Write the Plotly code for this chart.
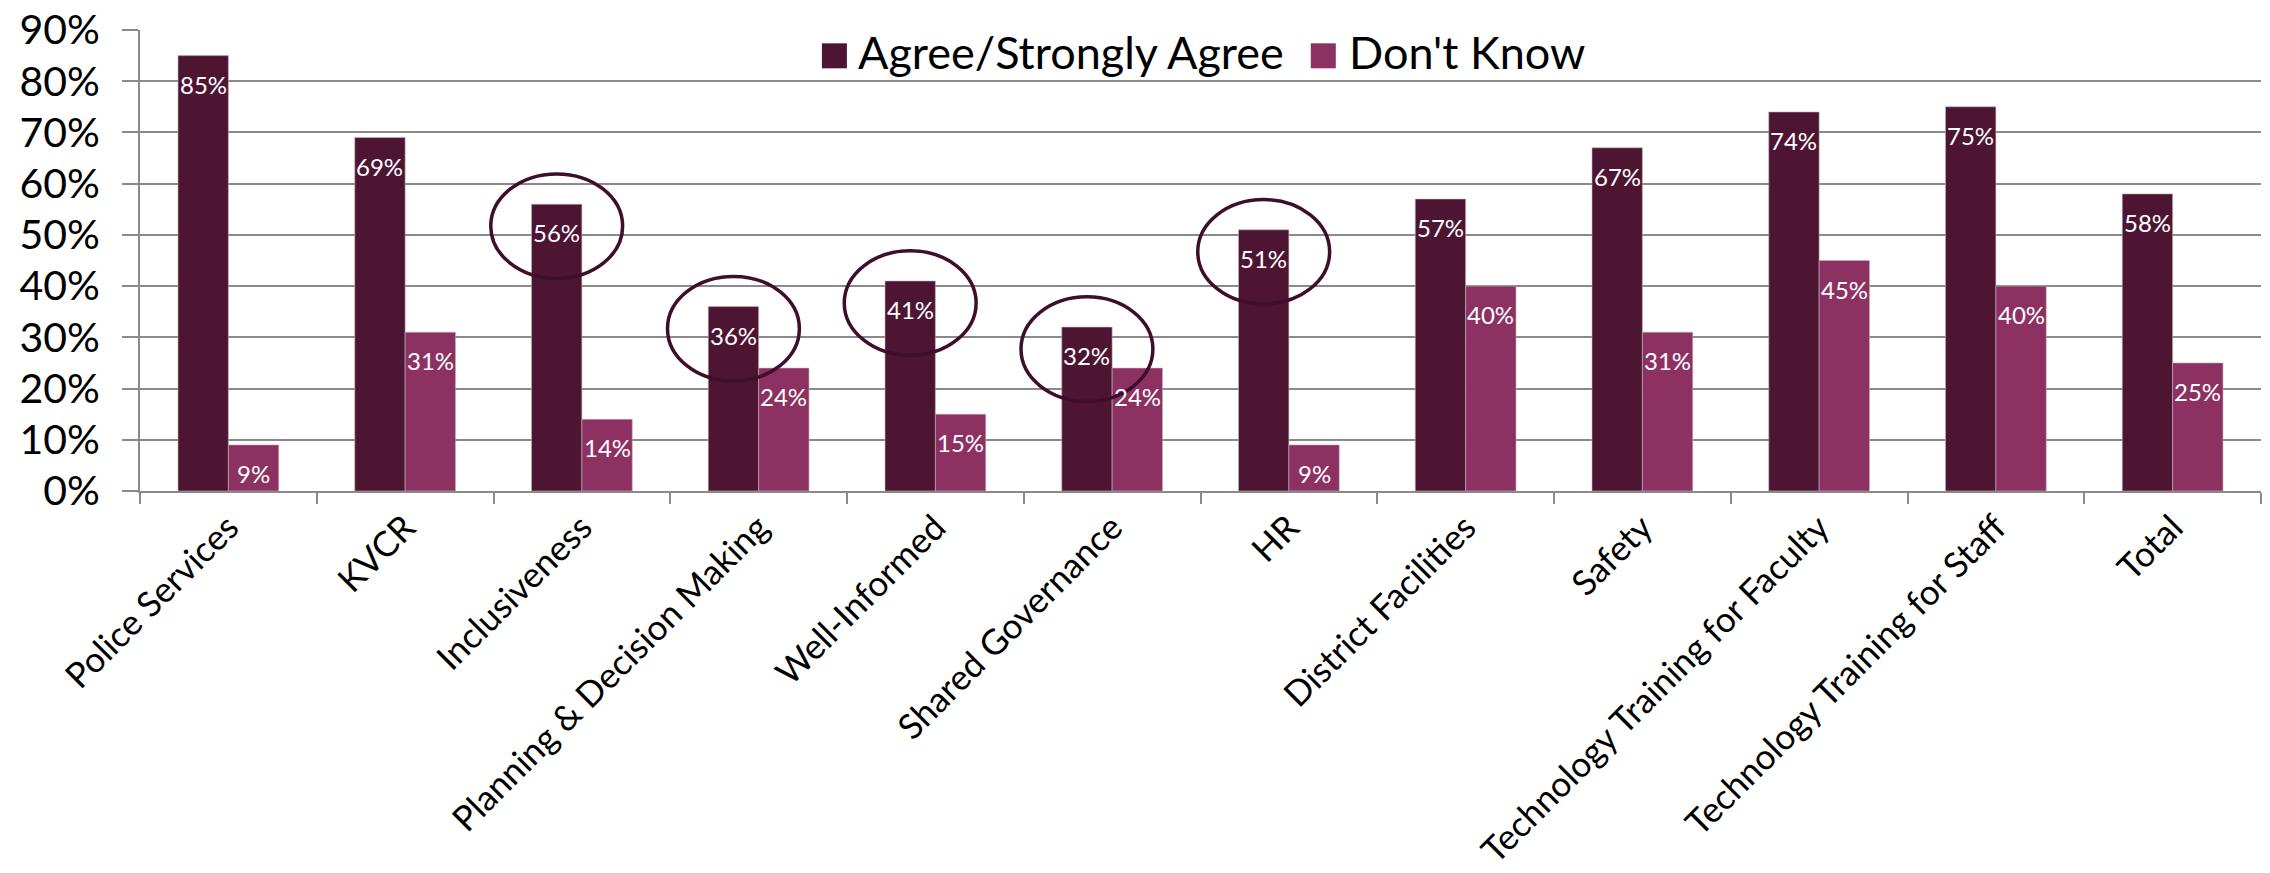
import plotly.graph_objects as go

categories = ["Police Services", "KVCR", "Inclusiveness", "Planning & Decision Making",
              "Well-Informed", "Shared Governance", "HR", "District Facilities", "Safety",
              "Technology Training for Faculty", "Technology Training for Staff", "Total"]
agree = [85, 69, 56, 36, 41, 32, 51, 57, 67, 74, 75, 58]
dont_know = [9, 31, 14, 24, 15, 24, 9, 40, 31, 45, 40, 25]
series_names = ["Agree/Strongly Agree", "Don't Know"]
highlighted = ["Inclusiveness", "Planning & Decision Making", "Well-Informed",
               "Shared Governance", "HR"]
y_ticks = [0, 10, 20, 30, 40, 50, 60, 70, 80, 90]
y_tick_labels = [f"{v}%" for v in y_ticks]

DARK = "#4E1533"
PINK = "#8D3162"
GRID = "#8A8A8A"
FONT = "Lato"
BARGAP = 0.43

fig = go.Figure()
for name, vals, col in [(series_names[0], agree, DARK), (series_names[1], dont_know, PINK)]:
    fig.add_trace(go.Bar(
        x=categories, y=vals, name=name, marker_color=col,
        marker_line=dict(width=1, color="rgba(190,180,185,0.6)"),
        showlegend=False,
    ))

half = (1 - BARGAP) / 4
annotations = []
for s, (vals, off) in enumerate([(agree, -half), (dont_know, half)]):
    for i, v in enumerate(vals):
        annotations.append(dict(
            x=i + off, y=v, xref="x", yref="y", text=f"{v}%", showarrow=False,
            yanchor="top", xanchor="center", yshift=-12,
            font=dict(family=FONT, size=24, color="white"),
        ))

# highlight ellipses around selected "agree" labels
shapes = []
for c in highlighted:
    i = categories.index(c)
    v = agree[i]
    cx = i - half
    cy = v - 4.3
    shapes.append(dict(
        type="circle", xref="x", yref="y",
        x0=cx - 0.373, x1=cx + 0.373, y0=cy - 10.2, y1=cy + 10.2,
        line=dict(color="#3E0E2A", width=3.5), fillcolor="rgba(0,0,0,0)", layer="above",
    ))

# manual legend with large swatches
legend_items = [(series_names[0], DARK, 0.3215, 0.3375), (series_names[1], PINK, 0.552, 0.569)]
for name, col, mx, tx in legend_items:
    shapes.append(dict(
        type="rect", xref="paper", yref="paper", xsizemode="pixel", ysizemode="pixel",
        xanchor=mx, yanchor=0.944, x0=0, x1=25, y0=-12.5, y1=12.5,
        fillcolor=col, line=dict(width=0), layer="above",
    ))
    annotations.append(dict(
        x=tx, y=0.952, xref="paper", yref="paper", text=name, showarrow=False,
        xanchor="left", yanchor="middle", font=dict(family=FONT, size=45, color="black"),
    ))

fig.update_layout(
    width=2270, height=873,
    margin=dict(l=140, r=9, t=30, b=382, autoexpand=False),
    paper_bgcolor="white", plot_bgcolor="white",
    barmode="group", bargap=BARGAP, bargroupgap=0,
    font=dict(family=FONT, color="black"),
    annotations=annotations, shapes=shapes,
    showlegend=False,
    xaxis=dict(
        type="category", tickangle=-45, tickfont=dict(family=FONT, size=35, color="black"),
        ticks="outside", tickson="boundaries", ticklen=11, tickwidth=2, tickcolor=GRID,
        showline=True, linecolor=GRID, linewidth=2, showgrid=False,
        ticklabeloverflow="allow",
    ),
    yaxis=dict(
        range=[0, 90], tickvals=y_ticks, ticktext=y_tick_labels,
        tickfont=dict(family=FONT, size=41, color="black"),
        ticks="outside", ticklen=16, tickwidth=2, tickcolor=GRID, ticklabelstandoff=14,
        ticklabeloverflow="allow",
        showgrid=True, gridcolor=GRID, gridwidth=2,
        showline=True, linecolor=GRID, linewidth=2, zeroline=False,
    ),
)

# remove the page's default body margin so the figure fills the window exactly
fig.write_html(
    "out.html",
    config={"displayModeBar": False},
    post_script="document.body.style.margin='0';document.body.style.overflow='hidden';",
)
